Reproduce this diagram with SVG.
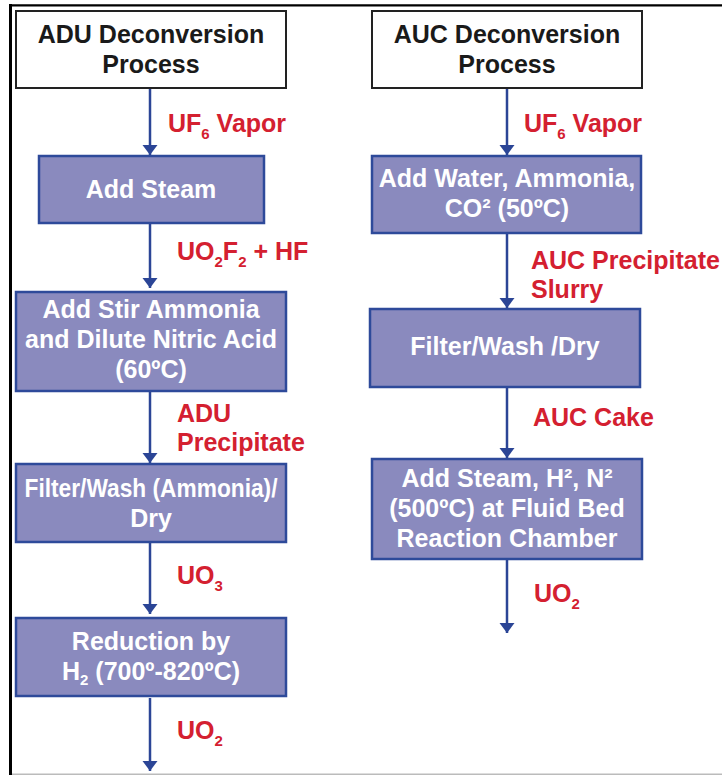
<svg xmlns="http://www.w3.org/2000/svg" width="722" height="775" viewBox="0 0 722 775">
  <defs>
    <marker id="arrow" markerUnits="userSpaceOnUse" markerWidth="12" markerHeight="16" refX="10" refY="7.5" orient="auto">
      <path d="M0,0 L10,7.5 L0,15 Z" fill="#2B4596"/>
    </marker>
  </defs>
  <style>
    .frame { fill: none; stroke: #000; }
    .head { fill: #fff; stroke: #222; stroke-width: 2; }
    .step { fill: #8A8ABE; stroke: #2E4A9A; stroke-width: 2.5; }
    .conn { stroke: #2B4596; stroke-width: 2.5; fill: none; marker-end: url(#arrow); }
    text { font-family: "Liberation Sans", Arial, sans-serif; font-weight: bold; text-anchor: middle; }
    .ht { font-size: 25px; fill: #1a1a1a; }
    .st { font-size: 25px; fill: #fff; }
    .lb { font-size: 25px; fill: #D42030; text-anchor: start; }
    .sub { font-size: 15px; }
  </style>

  <!-- outer frame -->
  <line class="frame" x1="9" y1="5.3" x2="722" y2="5.3" stroke-width="2.2"/>
  <line class="frame" x1="10.5" y1="4" x2="10.5" y2="775" stroke-width="3"/>
  <line x1="12" y1="774.3" x2="722" y2="774.3" stroke="#bbb" stroke-width="1.5"/>

  <!-- connectors -->
  <g id="connectors">
    <line class="conn" x1="150" y1="88" x2="150" y2="155"/>
    <line class="conn" x1="150" y1="223" x2="150" y2="288"/>
    <line class="conn" x1="150" y1="391" x2="150" y2="463"/>
    <line class="conn" x1="150" y1="542" x2="150" y2="614"/>
    <line class="conn" x1="150" y1="698" x2="150" y2="771"/>
    <line class="conn" x1="507" y1="88" x2="507" y2="155"/>
    <line class="conn" x1="507" y1="233" x2="507" y2="308"/>
    <line class="conn" x1="507" y1="387" x2="507" y2="458"/>
    <line class="conn" x1="507" y1="559" x2="507" y2="633"/>
  </g>

  <!-- connector labels -->
  <g id="labels">
    <text class="lb" x="168" y="132">UF<tspan class="sub" dy="7">6</tspan><tspan dy="-7"> Vapor</tspan></text>
    <text class="lb" x="177" y="260">UO<tspan class="sub" dy="7">2</tspan><tspan dy="-7">F</tspan><tspan class="sub" dy="7">2</tspan><tspan dy="-7"> + HF</tspan></text>
    <text class="lb" x="177" y="422">ADU</text>
    <text class="lb" x="177" y="451">Precipitate</text>
    <text class="lb" x="177" y="584">UO<tspan class="sub" dy="7">3</tspan></text>
    <text class="lb" x="177" y="739">UO<tspan class="sub" dy="7">2</tspan></text>
    <text class="lb" x="524" y="132">UF<tspan class="sub" dy="7">6</tspan><tspan dy="-7"> Vapor</tspan></text>
    <text class="lb" x="531" y="269">AUC Precipitate</text>
    <text class="lb" x="531" y="298">Slurry</text>
    <text class="lb" x="533" y="426">AUC Cake</text>
    <text class="lb" x="534" y="602">UO<tspan class="sub" dy="7">2</tspan></text>
  </g>

  <!-- ADU column -->
  <g id="adu-header">
    <rect class="head" x="16" y="11" width="270" height="77"/>
    <text class="ht" x="151" y="43">ADU Deconversion</text>
    <text class="ht" x="151" y="73">Process</text>
  </g>
  <g id="adu-steam">
    <rect class="step" x="39" y="156" width="225" height="67"/>
    <text class="st" x="151" y="198">Add Steam</text>
  </g>
  <g id="adu-ammonia">
    <rect class="step" x="16" y="292" width="270" height="99"/>
    <text class="st" x="151" y="318">Add Stir Ammonia</text>
    <text class="st" x="151" y="348">and Dilute Nitric Acid</text>
    <text class="st" x="151" y="378">(60ºC)</text>
  </g>
  <g id="adu-filter">
    <rect class="step" x="16" y="464" width="270" height="78"/>
    <text class="st" x="151" y="497" textLength="253" lengthAdjust="spacingAndGlyphs">Filter/Wash (Ammonia)/</text>
    <text class="st" x="151" y="527">Dry</text>
  </g>
  <g id="adu-reduction">
    <rect class="step" x="16" y="618" width="270" height="78"/>
    <text class="st" x="151" y="650">Reduction by</text>
    <text class="st" x="151" y="680">H<tspan class="sub" dy="5">2</tspan><tspan dy="-5"> (700º-820ºC)</tspan></text>
  </g>

  <!-- AUC column -->
  <g id="auc-header">
    <rect class="head" x="372" y="11" width="270" height="77"/>
    <text class="ht" x="507" y="43">AUC Deconversion</text>
    <text class="ht" x="507" y="73">Process</text>
  </g>
  <g id="auc-water">
    <rect class="step" x="372" y="156" width="269" height="77"/>
    <text class="st" x="507" y="187">Add Water, Ammonia,</text>
    <text class="st" x="507" y="217">CO² (50ºC)</text>
  </g>
  <g id="auc-filter">
    <rect class="step" x="370" y="309" width="270" height="78"/>
    <text class="st" x="505" y="355">Filter/Wash /Dry</text>
  </g>
  <g id="auc-fluid-bed">
    <rect class="step" x="372" y="459" width="270" height="100"/>
    <text class="st" x="507" y="487">Add Steam, H², N²</text>
    <text class="st" x="507" y="517">(500ºC) at Fluid Bed</text>
    <text class="st" x="507" y="547">Reaction Chamber</text>
  </g>
</svg>
